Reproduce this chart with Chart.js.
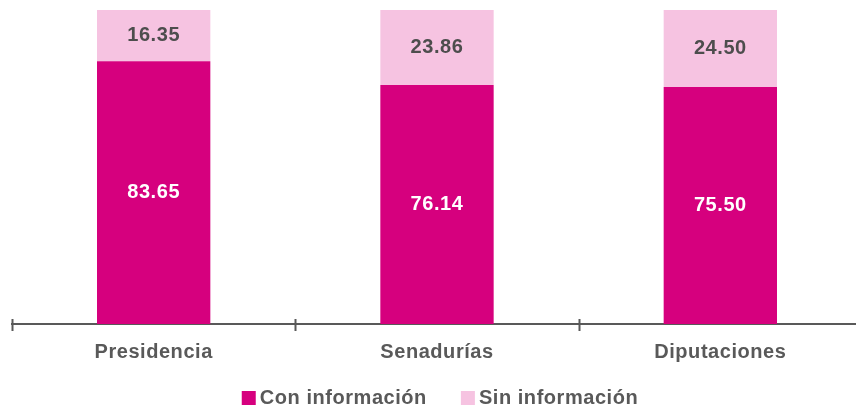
<!DOCTYPE html>
<html>
<head>
<meta charset="utf-8">
<script src="https://cdn.jsdelivr.net/npm/chart.js@4/dist/chart.umd.min.js"></script>
<style>
  html, body { margin: 0; padding: 0; background: #fff; overflow: hidden; }
  #wrap { width: 876px; height: 410px; }
</style>
</head>
<body>
<div id="wrap"><canvas id="chart"></canvas></div>
<script>
// Data
const categories = ['Presidencia', 'Senadurías', 'Diputaciones'];
const conInfo = [83.65, 76.14, 75.50];
const sinInfo = [16.35, 23.86, 24.50];

const DARK = '#D6007E';
const LIGHT = '#F6C3E1';
const GREY = '#595959';
const FONT = 'Liberation Sans, Arial, sans-serif';
const SPACING = '0.55px';

// Slightly tracked text like the original
const tracking = {
    id: 'tracking',
    beforeUpdate(chart) { chart.ctx.letterSpacing = SPACING; },
    beforeDraw(chart) { chart.ctx.letterSpacing = SPACING; }
};

// Value labels centred in each segment
const valueLabels = {
    id: 'valueLabels',
    afterDatasetsDraw(chart) {
        const ctx = chart.ctx;
        ctx.save();
        ctx.font = 'bold 20px ' + FONT;
        ctx.textAlign = 'center';
        ctx.textBaseline = 'middle';
        chart.data.datasets.forEach((ds, di) => {
            const meta = chart.getDatasetMeta(di);
            meta.data.forEach((bar, i) => {
                const mid = (bar.y + bar.base) / 2;
                ctx.fillStyle = di === 0 ? '#ffffff' : '#4d4d4d';
                ctx.fillText(ds.data[i].toFixed(2), bar.x, mid);
            });
        });
        ctx.restore();
    }
};

// Tick marks crossing the axis at category boundaries
const axisTicks = {
    id: 'axisTicks',
    afterDraw(chart) {
        const x = chart.scales.x;
        const ctx = chart.ctx;
        const half = (x.getPixelForValue(1) - x.getPixelForValue(0)) / 2;
        ctx.save();
        ctx.strokeStyle = GREY;
        ctx.lineWidth = 2;
        for (let i = 0; i <= categories.length; i++) {
            const px = Math.round(x.getPixelForValue(0) - half + i * half * 2) + 0.5;
            ctx.beginPath();
            ctx.moveTo(px, x.top - 5);
            ctx.lineTo(px, x.top + 7);
            ctx.stroke();
        }
        ctx.restore();
    }
};

// Legend drawn by hand: small gap box->text, wide gap between items
const bottomLegend = {
    id: 'bottomLegend',
    afterDraw(chart) {
        const ctx = chart.ctx;
        const box = 14, gapText = 4, gapItem = 34;
        ctx.save();
        ctx.font = 'bold 20px ' + FONT;
        ctx.textBaseline = 'middle';
        ctx.textAlign = 'left';
        const items = chart.data.datasets.map(ds => ({
            text: ds.label, color: ds.backgroundColor, w: ctx.measureText(ds.label).width
        }));
        const total = items.reduce((s, it) => s + box + gapText + it.w, 0) + gapItem * (items.length - 1);
        let x = chart.width / 2 + 2 - total / 2;
        const y = chart.chartArea.bottom + 74;
        items.forEach(it => {
            ctx.fillStyle = it.color;
            ctx.fillRect(x, y - box / 2, box, box);
            x += box + gapText;
            ctx.fillStyle = GREY;
            ctx.fillText(it.text, x, y);
            x += it.w + gapItem;
        });
        ctx.restore();
    }
};

new Chart(document.getElementById('chart'), {
    type: 'bar',
    data: {
        labels: categories,
        datasets: [
            { label: 'Con información', data: conInfo, backgroundColor: DARK },
            { label: 'Sin información', data: sinInfo, backgroundColor: LIGHT }
        ]
    },
    options: {
        responsive: true,
        maintainAspectRatio: false,
        animation: false,
        layout: { padding: { top: 10, left: 12, right: 14, bottom: 30 } },
        datasets: { bar: { barPercentage: 0.4, categoryPercentage: 1.0 } },
        scales: {
            x: {
                stacked: true,
                grid: { display: false, drawTicks: false },
                border: { display: true, color: GREY, width: 2 },
                ticks: {
                    color: GREY,
                    padding: 16,
                    font: { family: FONT, size: 20, weight: 'bold' }
                }
            },
            y: {
                stacked: true,
                display: false,
                min: 0,
                max: 100
            }
        },
        plugins: {
            tooltip: { enabled: false },
            legend: { display: false }
        }
    },
    plugins: [tracking, valueLabels, axisTicks, bottomLegend]
});
</script>
</body>
</html>
